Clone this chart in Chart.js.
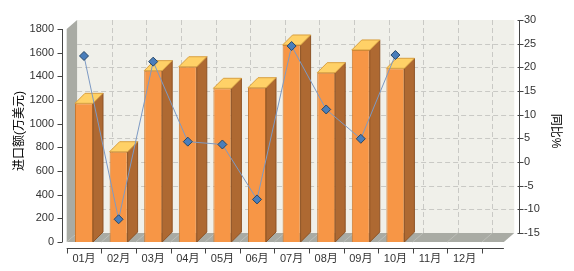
<!DOCTYPE html>
<html><head><meta charset="utf-8">
<script src="https://cdn.jsdelivr.net/npm/chart.js@4.4.0/dist/chart.umd.min.js"></script>
<style>html,body{margin:0;padding:0;background:#fff;}canvas{display:block;}</style>
</head><body>
<canvas id="c" width="574" height="271"></canvas>
<script>
const months = ['01月','02月','03月','04月','05月','06月','07月','08月','09月','10月','11月','12月'];
const importValues = [1172, 763, 1448, 1481, 1299, 1304, 1665, 1431, 1623, 1468];
const yoyValues = [22.4, -12.1, 21.2, 4.3, 3.7, -7.9, 24.5, 11.1, 4.9, 22.6];
const leftTicks = [0, 200, 400, 600, 800, 1000, 1200, 1400, 1600, 1800];
const rightTicks = [-15, -10, -5, 0, 5, 10, 15, 20, 25, 30];
const leftTitle = '进口额(万美元)';
const rightTitle = '同比%';

const FONT = "'Liberation Sans','Noto Sans CJK SC',sans-serif";
const DX = 10.4, DY = 9;     // wall depth
const BDX = 10, BDY = 10;    // bar depth
const EXTRA = 22;            // floor extends past last category

const threeD = {
  id: 'threeD',
  beforeDatasetsDraw(chart) {
    const {ctx, scales: {x, y, y2}} = chart;
    const fy = y.getPixelForValue(0);
    const fTop = y.getPixelForValue(leftTicks[leftTicks.length - 1]);
    const bTop = y2.getPixelForValue(rightTicks[rightTicks.length - 1]);
    const bBot = fy - DY;
    const fx0 = x.left, fx1 = x.right + EXTRA;
    const bx0 = fx0 + DX, bx1 = fx1 + DX;
    const catW = x.width / months.length;
    ctx.save();
    ctx.fillStyle = '#F0F0EA';
    ctx.fillRect(bx0, bTop, bx1 - bx0, bBot - bTop);
    ctx.fillStyle = '#A9ABA4';
    ctx.beginPath();
    ctx.moveTo(fx0, fTop); ctx.lineTo(bx0, bTop); ctx.lineTo(bx0, bBot); ctx.lineTo(fx0, fy); ctx.closePath(); ctx.fill();
    ctx.beginPath();
    ctx.moveTo(fx0, fy); ctx.lineTo(bx0, bBot); ctx.lineTo(bx1, bBot); ctx.lineTo(fx1, fy); ctx.closePath(); ctx.fill();
    ctx.strokeStyle = '#C9C9C5';
    ctx.lineWidth = 1;
    ctx.setLineDash([5, 3]);
    rightTicks.forEach(v => {
      if (v === rightTicks[0] || v === rightTicks[rightTicks.length - 1]) return;
      const py = Math.round(y2.getPixelForValue(v)) + 0.5;
      ctx.beginPath(); ctx.moveTo(bx0, py); ctx.lineTo(bx1, py); ctx.stroke();
    });
    for (let i = 1; i <= months.length; i++) {
      const px = Math.round(x.left + i * catW + DX) + 0.5;
      ctx.beginPath(); ctx.moveTo(px, bTop); ctx.lineTo(px, bBot); ctx.stroke();
    }
    ctx.strokeStyle = '#BDBFB9';
    ctx.setLineDash([]);
    for (let i = 1; i <= months.length; i++) {
      const px = x.left + i * catW;
      ctx.beginPath(); ctx.moveTo(px, fy); ctx.lineTo(px + DX, bBot); ctx.stroke();
    }
    ctx.strokeStyle = '#444';
    const ax = Math.round(x.left - 4.7) + 0.5;
    ctx.beginPath(); ctx.moveTo(ax, fTop); ctx.lineTo(ax, fy); ctx.stroke();
    leftTicks.forEach(v => {
      const py = Math.round(y.getPixelForValue(v)) + 0.5;
      ctx.beginPath(); ctx.moveTo(ax - 5, py); ctx.lineTo(ax, py); ctx.stroke();
    });
    const rx = Math.round(bx1 + 4.5) + 0.5;
    ctx.beginPath(); ctx.moveTo(rx, bTop); ctx.lineTo(rx, bBot); ctx.stroke();
    rightTicks.forEach(v => {
      const py = Math.round(y2.getPixelForValue(v)) + 0.5;
      ctx.beginPath(); ctx.moveTo(rx - 2, py); ctx.lineTo(rx + 4, py); ctx.stroke();
    });
    const xy = Math.round(fy + 6) + 0.5;
    ctx.beginPath(); ctx.moveTo(x.left, xy); ctx.lineTo(fx1, xy); ctx.stroke();
    for (let i = 0; i <= months.length; i++) {
      const px = Math.round(x.left + i * catW) + 0.5;
      ctx.beginPath(); ctx.moveTo(px, xy); ctx.lineTo(px, xy + 5); ctx.stroke();
    }
    ctx.restore();
  },
  afterDatasetDraw(chart, args) {
    if (args.meta.type !== 'bar') return;
    const ctx = chart.ctx;
    ctx.save();
    ctx.lineWidth = 1;
    ctx.lineJoin = 'round';
    args.meta.data.forEach(bar => {
      const {x, y, base, width} = bar.getProps(['x', 'y', 'base', 'width'], true);
      const l = x - width / 2, r = x + width / 2;
      ctx.fillStyle = '#AE6932';
      ctx.strokeStyle = '#8E5325';
      ctx.beginPath();
      ctx.moveTo(r, y); ctx.lineTo(r + BDX, y - BDY); ctx.lineTo(r + BDX, base - BDY); ctx.lineTo(r, base); ctx.closePath();
      ctx.fill(); ctx.stroke();
      ctx.fillStyle = '#FFD167';
      ctx.strokeStyle = '#D9A040';
      ctx.beginPath();
      ctx.moveTo(l, y); ctx.lineTo(l + BDX, y - BDY); ctx.lineTo(r + BDX, y - BDY); ctx.lineTo(r, y); ctx.closePath();
      ctx.fill(); ctx.stroke();
    });
    ctx.restore();
  }
};

const fixTicks = arr => scale => { scale.ticks = arr.map(v => ({value: v})); };
const noPad = s => { s.paddingTop = 0; s.paddingBottom = 0; s.paddingLeft = 0; s.paddingRight = 0; };
const plain = v => String(v);

new Chart(document.getElementById('c'), {
  data: {
    labels: months,
    datasets: [
      {
        type: 'line', label: rightTitle, data: yoyValues, yAxisID: 'y2', order: 0,
        borderColor: '#7D9AC4', borderWidth: 1, tension: 0,
        pointStyle: 'rectRot', pointRadius: 4.5, pointBackgroundColor: '#4A7EBB',
        pointBorderColor: '#274766', pointBorderWidth: 1
      },
      {
        type: 'bar', label: leftTitle, data: importValues, yAxisID: 'y', order: 1,
        backgroundColor: '#F79646', borderColor: '#C9782F', borderWidth: 1,
        categoryPercentage: 1, barPercentage: 0.52
      }
    ]
  },
  options: {
    responsive: false, animation: false, devicePixelRatio: 1,
    layout: {padding: {left: 4, right: 4, top: 20, bottom: 0}},
    plugins: {legend: {display: false}, tooltip: {enabled: false}},
    scales: {
      x: {
        type: 'category', offset: true, position: 'bottom',
        grid: {display: false, drawTicks: false}, border: {display: false},
        ticks: {padding: 10.4, color: '#333', font: {family: FONT, size: 11}, maxRotation: 0, autoSkip: false},
        afterFit: s => { noPad(s); s.height = 29; }
      },
      y: {
        type: 'linear', position: 'left', min: 0, max: 1800 * 222 / 213,
        grid: {display: false, drawTicks: false}, border: {display: false},
        ticks: {padding: 12.7, color: '#333', font: {family: FONT, size: 11}, callback: plain},
        afterBuildTicks: fixTicks(leftTicks),
        title: {display: true, text: leftTitle, color: '#000', font: {family: FONT, size: 12}, padding: {top: 8.8, bottom: 0}},
        afterFit: s => { noPad(s); s.width = 62.7; }
      },
      y2: {
        type: 'linear', position: 'right', min: -15 - 45 * 9 / 213, max: 30,
        grid: {display: false, drawTicks: false}, border: {display: false},
        ticks: {padding: 42, color: '#333', font: {family: FONT, size: 11}, callback: plain},
        afterBuildTicks: fixTicks(rightTicks),
        title: {display: true, text: rightTitle, color: '#000', font: {family: FONT, size: 12}, padding: {top: 7.8, bottom: 0}},
        afterFit: s => { noPad(s); s.width = 88.1; }
      }
    }
  },
  plugins: [threeD]
});
</script>
</body></html>
